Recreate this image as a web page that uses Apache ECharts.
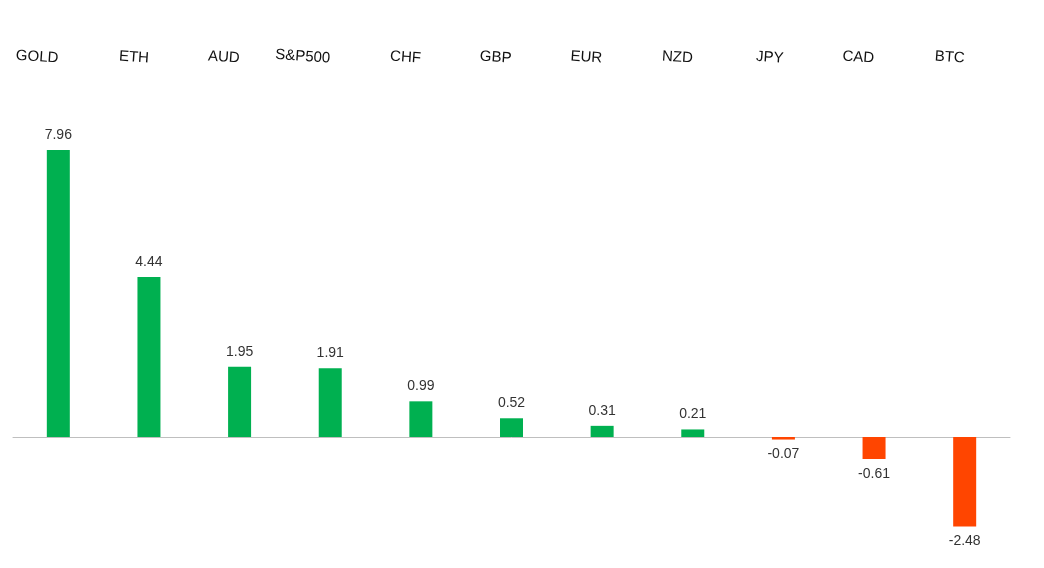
<!DOCTYPE html>
<html><head><meta charset="utf-8">
<script src="https://cdn.jsdelivr.net/npm/echarts@6/dist/echarts.min.js"></script>
<style>html,body{margin:0;padding:0;background:#fff}#c{width:1044px;height:568px}</style>
</head><body><div id="c"></div>
<script>
const categories = ['GOLD','ETH','AUD','S&P500','CHF','GBP','EUR','NZD','JPY','CAD','BTC'];
const values = [7.96,4.44,1.95,1.91,0.99,0.52,0.31,0.21,-0.07,-0.61,-2.48];
const chart = echarts.init(document.getElementById('c'));
chart.setOption({
  animation:false,
  grid:{left:13,right:34,top:112.5,height:432.7},
  xAxis:[
    {type:'category',data:categories,position:'bottom',axisLine:{onZero:true,lineStyle:{color:'#bfbfbf'}},axisTick:{show:false},axisLabel:{show:false}},
    {type:'category',data:categories,position:'top',offset:50,axisLine:{show:false},axisTick:{show:false},
     axisLabel:{color:'#111',fontSize:15,fontFamily:'Liberation Sans',rotate:4,margin:4}}
  ],
  yAxis:{type:'value',min:-3,max:9,show:false,splitLine:{show:false}},
  series:[{type:'bar',barWidth:23,data:values.map(v=>({value:v,itemStyle:{color:v>=0?'#00B050':'#FF4500'}})),
    label:{show:true,position:'outside',color:'#333',fontSize:14,fontFamily:'Liberation Sans',distance:8}}]
});
</script></body></html>
